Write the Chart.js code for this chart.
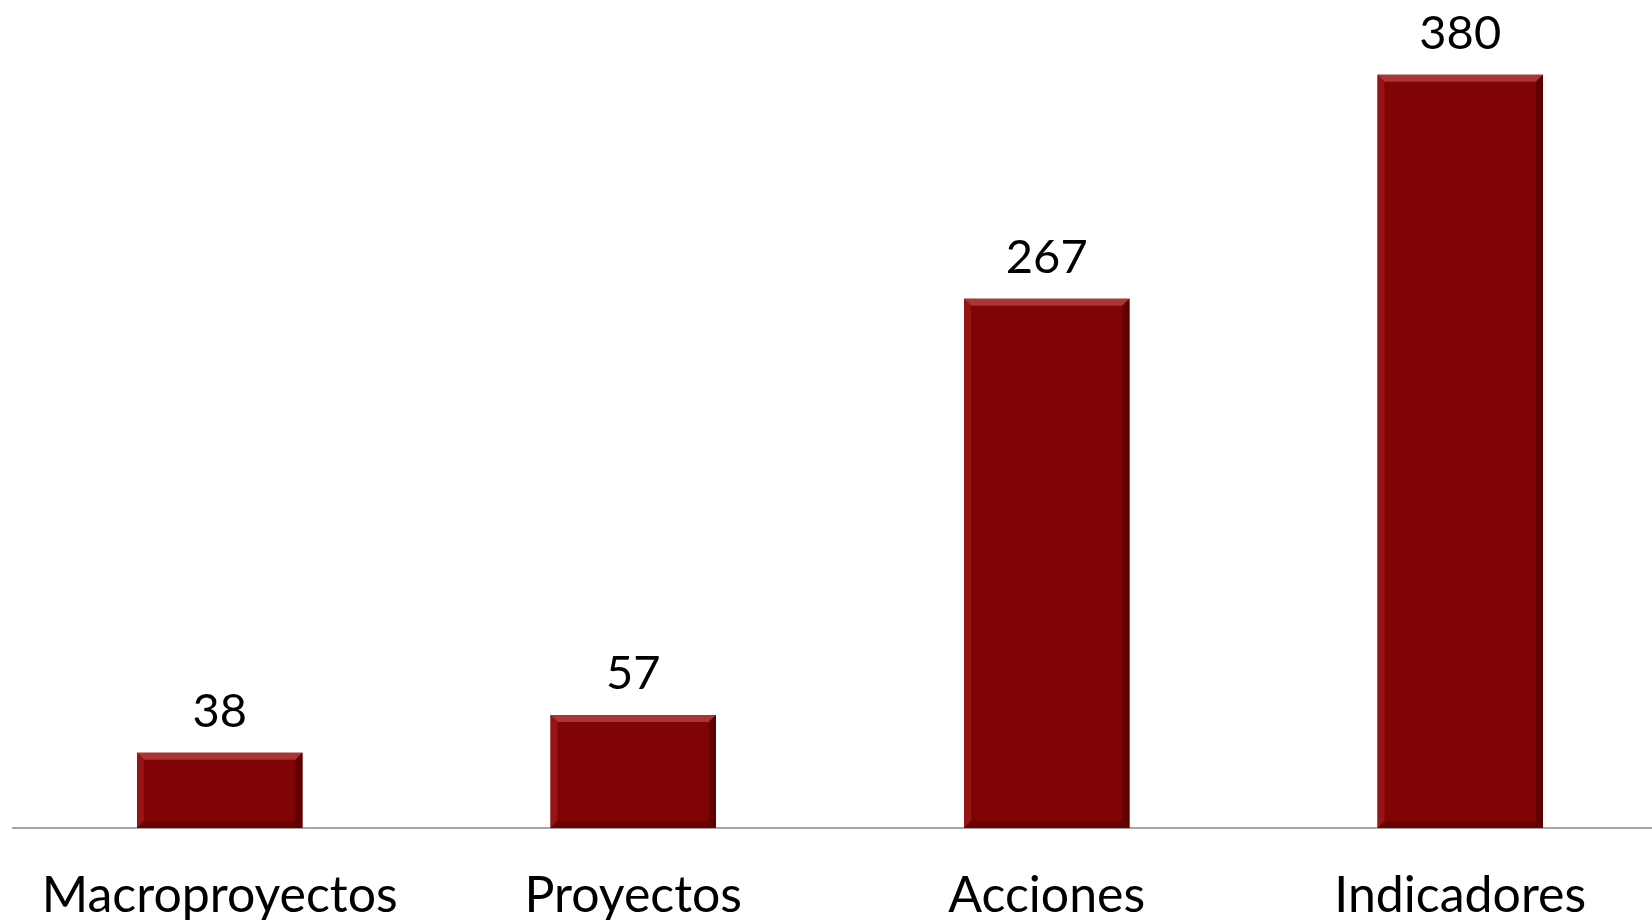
<!DOCTYPE html>
<html>
<head>
<meta charset="utf-8">
<script src="https://cdn.jsdelivr.net/npm/chart.js@4"></script>
<style>
html,body{margin:0;padding:0;background:#fff;overflow:hidden;}
#wrap{position:absolute;left:0;top:0;width:1680px;height:920px;}
</style>
</head>
<body>
<div id="wrap"><canvas id="c"></canvas></div>
<script>
const categories = ["Macroproyectos", "Proyectos", "Acciones", "Indicadores"];
const values = [38, 57, 267, 380];

const FONT = "Lato, 'Open Sans', sans-serif";

const bevelPlugin = {
  id: 'bevel',
  afterDatasetsDraw(chart) {
    const ctx = chart.ctx;
    const meta = chart.getDatasetMeta(0);
    meta.data.forEach((bar) => {
      const w = bar.width;
      const l = bar.x - w / 2, r = bar.x + w / 2, t = bar.y, b = bar.base;
      const s = Math.min(7, (b - t) / 2);
      ctx.save();
      ctx.fillStyle = '#ad3434';
      ctx.beginPath(); ctx.moveTo(l, t); ctx.lineTo(r, t); ctx.lineTo(r - s, t + s); ctx.lineTo(l + s, t + s); ctx.closePath(); ctx.fill();
      ctx.fillStyle = '#951414';
      ctx.beginPath(); ctx.moveTo(l, t); ctx.lineTo(l + s, t + s); ctx.lineTo(l + s, b - s); ctx.lineTo(l, b); ctx.closePath(); ctx.fill();
      ctx.fillStyle = '#5e0000';
      ctx.beginPath(); ctx.moveTo(r, t); ctx.lineTo(r, b); ctx.lineTo(r - s, b - s); ctx.lineTo(r - s, t + s); ctx.closePath(); ctx.fill();
      ctx.fillStyle = '#680202';
      ctx.beginPath(); ctx.moveTo(l, b); ctx.lineTo(l + s, b - s); ctx.lineTo(r - s, b - s); ctx.lineTo(r, b); ctx.closePath(); ctx.fill();
      ctx.restore();
    });
  }
};

const labelPlugin = {
  id: 'valueLabels',
  afterDatasetsDraw(chart) {
    const ctx = chart.ctx;
    const meta = chart.getDatasetMeta(0);
    ctx.save();
    ctx.font = "47px " + FONT;
    ctx.fillStyle = '#000';
    ctx.textAlign = 'center';
    ctx.textBaseline = 'alphabetic';
    meta.data.forEach((bar, i) => {
      ctx.fillText(String(values[i]), bar.x, bar.y - 26);
    });
    ctx.restore();
  }
};

new Chart(document.getElementById('c'), {
  type: 'bar',
  data: {
    labels: categories,
    datasets: [{
      data: values,
      backgroundColor: '#800404',
      borderWidth: 0,
      categoryPercentage: 1.0,
      barPercentage: 0.4
    }]
  },
  options: {
    responsive: true,
    maintainAspectRatio: false,
    animation: false,
    layout: { padding: { left: 13, right: 13, top: 35, bottom: -44 } },
    plugins: { legend: { display: false }, tooltip: { enabled: false } },
    scales: {
      y: { display: false, min: 0, max: 400 },
      x: {
        grid: { display: false, drawTicks: false },
        border: { display: true, color: '#a6a6a6', width: 2 },
        ticks: { color: '#000', font: { family: FONT, size: 50 }, padding: 38, maxRotation: 0, autoSkip: false }
      }
    }
  },
  plugins: [bevelPlugin, labelPlugin]
});
</script>
</body>
</html>
